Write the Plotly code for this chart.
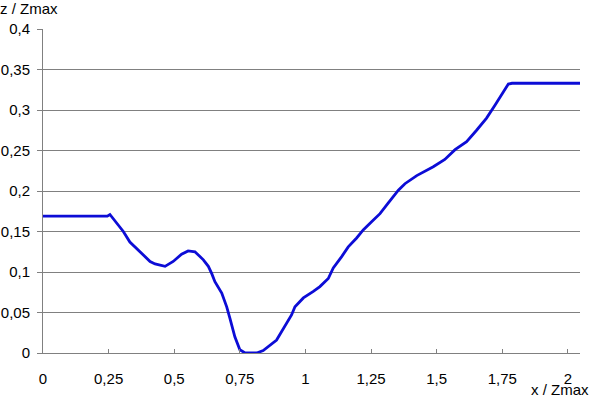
import plotly.graph_objects as go

x_vals = [0.0, 0.10, 0.20, 0.245, 0.255, 0.268, 0.306, 0.331, 0.370, 0.408, 0.427, 0.465,
          0.496, 0.528, 0.553, 0.579, 0.611, 0.630, 0.643, 0.655, 0.681, 0.700, 0.712,
          0.731, 0.750, 0.770, 0.814, 0.839, 0.890, 0.915, 0.947, 0.960, 0.992, 1.030,
          1.055, 1.087, 1.106, 1.138, 1.163, 1.195, 1.220, 1.252, 1.284, 1.315, 1.354,
          1.379, 1.424, 1.487, 1.531, 1.570, 1.614, 1.652, 1.690, 1.722, 1.773, 1.787,
          2.046]
z_vals = [0.169, 0.169, 0.169, 0.169, 0.171, 0.166, 0.150, 0.137, 0.125, 0.113, 0.110, 0.107,
          0.113, 0.122, 0.126, 0.125, 0.115, 0.107, 0.098, 0.088, 0.074, 0.057, 0.043,
          0.020, 0.004, 0.0, 0.0, 0.003, 0.016, 0.030, 0.047, 0.057, 0.068, 0.076,
          0.082, 0.092, 0.105, 0.119, 0.131, 0.142, 0.152, 0.162, 0.172, 0.185, 0.201,
          0.209, 0.219, 0.230, 0.239, 0.251, 0.261, 0.275, 0.290, 0.306, 0.332, 0.333,
          0.333]

x_ticks = [0, 0.25, 0.5, 0.75, 1, 1.25, 1.5, 1.75, 2]
y_ticks = [0, 0.05, 0.1, 0.15, 0.2, 0.25, 0.3, 0.35, 0.4]

fig = go.Figure()
fig.add_trace(go.Scatter(x=x_vals, y=z_vals, mode="lines",
                         line=dict(color="#0c0cd6", width=2.8), showlegend=False))

font = dict(family="Liberation Sans, Arial, sans-serif", size=15, color="#000000")

fig.update_layout(
    width=589, height=401,
    margin=dict(l=43, r=9, t=29, b=48),
    paper_bgcolor="white", plot_bgcolor="white",
    separators=",.",
    font=font,
    xaxis=dict(range=[0, 2.046], tickvals=x_ticks, showgrid=False, zeroline=False,
               showline=True, linecolor="#808080", linewidth=1, automargin=False,
               ticks="inside", ticklen=4, tickcolor="#808080", tickfont=font,
               ticklabelstandoff=12),
    yaxis=dict(range=[0, 0.4], tickvals=y_ticks, showgrid=True, gridcolor="#808080",
               gridwidth=1, zeroline=False, showline=True, linecolor="#808080",
               linewidth=1, ticks="outside", ticklen=5, tickcolor="#808080",
               automargin=False, tickfont=font, ticklabelstandoff=4),
    annotations=[
        dict(text="z / Zmax", xref="paper", yref="paper", x=0, y=1, xshift=-45, yshift=31,
             xanchor="left", yanchor="top", showarrow=False, font=font),
        dict(text="x / Zmax", xref="paper", yref="paper", x=1, y=0, xshift=11, yshift=-47,
             xanchor="right", yanchor="bottom", showarrow=False, font=font),
    ],
)

fig.write_html("out.html", config={"displayModeBar": False},
               post_script="document.body.style.margin='0';document.body.style.overflow='hidden';")
